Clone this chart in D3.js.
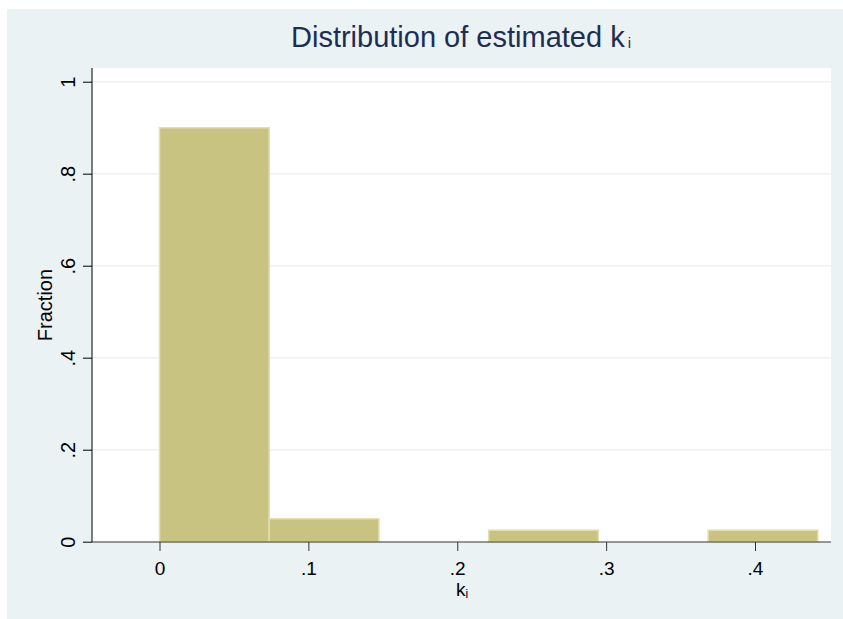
<!DOCTYPE html>
<html><head><meta charset="utf-8">
<script src="https://cdn.jsdelivr.net/npm/d3@7"></script>
<style>body{margin:0;background:#fff;} text{font-family:"Liberation Sans",Arial,sans-serif;}</style>
</head><body>
<svg id="c" width="843" height="619"></svg>
<script>
const binEdges = [0, 0.0737, 0.1474, 0.2211, 0.2948, 0.3685, 0.4422];
const fractions = [0.9, 0.05, 0, 0.025, 0, 0.025];
const xTicks = [0, 0.1, 0.2, 0.3, 0.4];
const xTickLabels = ["0", ".1", ".2", ".3", ".4"];
const yTicks = [0, 0.2, 0.4, 0.6, 0.8, 1];
const yTickLabels = ["0", ".2", ".4", ".6", ".8", "1"];

const svg = d3.select("#c");
svg.append("rect").attr("x",7).attr("y",9).attr("width",836).attr("height",610).attr("fill","#EAF2F3");
const L=92, R=831, T=68, B=542;
svg.append("rect").attr("x",L).attr("y",T).attr("width",R-L).attr("height",B-T).attr("fill","#fff");

const x = d3.scaleLinear().domain([0,0.4]).range([159.5,755]);
const y = d3.scaleLinear().domain([0,1]).range([541.7,81.7]);

// gridlines
svg.append("g").selectAll("line").data(yTicks.filter(d=>d>0)).join("line")
  .attr("x1",L).attr("x2",R).attr("y1",d=>y(d)).attr("y2",d=>y(d))
  .attr("stroke","#EAF2F3").attr("stroke-width",1.5);

// bars
const bins = fractions.map((f,i)=>({x0:binEdges[i],x1:binEdges[i+1],f})).filter(d=>d.f>0);
svg.append("g").selectAll("rect").data(bins).join("rect")
  .attr("x",d=>x(d.x0)).attr("width",d=>x(d.x1)-x(d.x0))
  .attr("y",d=>y(d.f)).attr("height",d=>y(0)-y(d.f))
  .attr("fill","#C9C382").attr("stroke","#E3DFB0").attr("stroke-width",1.5);

// y axis
const yAxis = svg.append("g").attr("transform",`translate(${L},0)`)
  .call(d3.axisLeft(y).tickValues(yTicks).tickFormat((d,i)=>yTickLabels[i]).tickSize(9).tickPadding(0));
yAxis.select(".domain").attr("d",`M0,${T}V${B}`).attr("stroke","#000");
yAxis.selectAll(".tick line").attr("stroke","#000");
yAxis.selectAll(".tick text").attr("transform","translate(-17,0) rotate(-90)").attr("x",0).attr("dy",0)
  .attr("text-anchor","middle").attr("font-size",20).attr("fill","#000");

// x axis
const xAxis = svg.append("g").attr("transform",`translate(0,${B})`)
  .call(d3.axisBottom(x).tickValues(xTicks).tickFormat((d,i)=>xTickLabels[i]).tickSize(9).tickPadding(0));
xAxis.select(".domain").attr("d",`M${L},0H${R}`).attr("stroke","#333");
xAxis.selectAll(".tick line").attr("stroke","#333");
xAxis.selectAll(".tick text").attr("y",33).attr("dy",0).attr("font-size",19).attr("fill","#000");

// labels
const xl = svg.append("text").attr("x",462).attr("y",596).attr("text-anchor","middle").attr("font-size",19).attr("fill","#000");
xl.append("tspan").text("k");
xl.append("tspan").attr("font-size",12).attr("dy",2).text("i");
svg.append("text").attr("transform","translate(52,305) rotate(-90)").attr("text-anchor","middle")
  .attr("font-size",20).attr("fill","#000").text("Fraction");

const title = svg.append("text").attr("x",461).attr("y",47).attr("text-anchor","middle").attr("font-size",29).attr("fill","#1E2D53");
title.append("tspan").text("Distribution of estimated k");
title.append("tspan").attr("font-size",15).attr("dy",1).attr("dx",3).text("i");
</script>
</body></html>
